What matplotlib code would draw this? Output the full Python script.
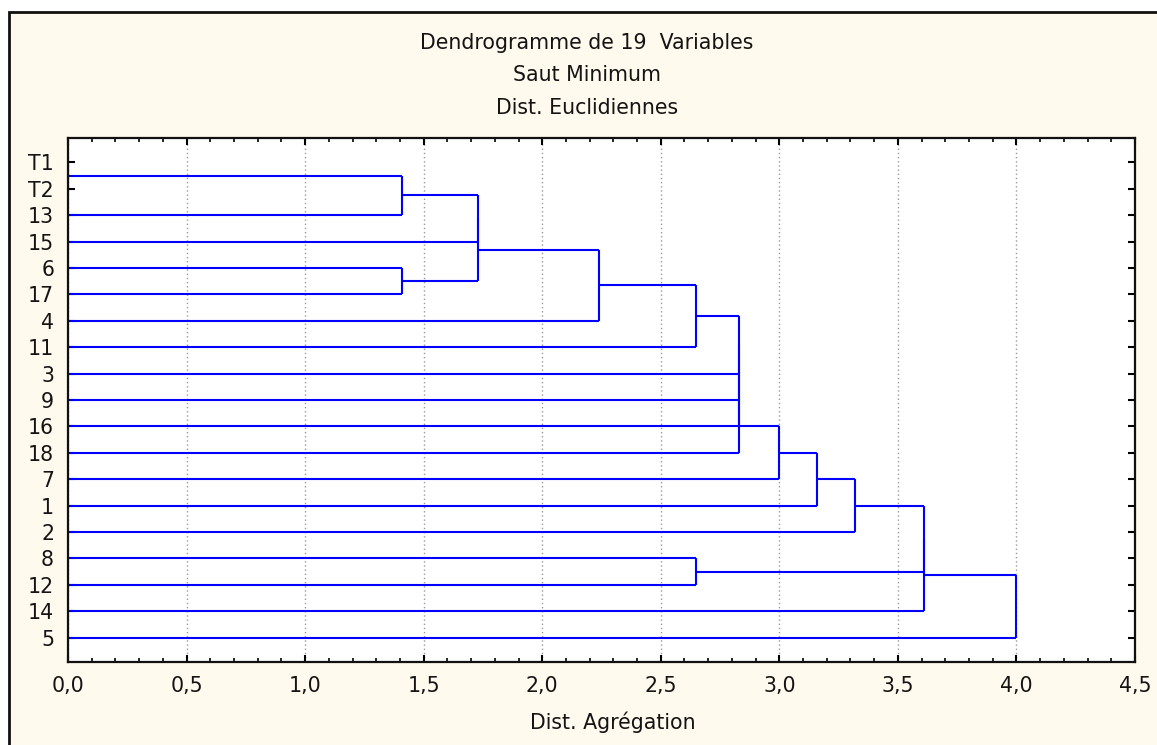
import matplotlib
matplotlib.use("Agg")
import matplotlib.pyplot as plt
from matplotlib.patches import Rectangle
from matplotlib.ticker import MultipleLocator

# ---- data ----
leaf_labels = ['T1', 'T2', '13', '15', '6', '17', '4', '11', '3', '9',
               '16', '18', '7', '1', '2', '8', '12', '14', '5']
# merges: node index n_leaves + k is created by merging merge_a[k] and merge_b[k] at merge_h[k]
merge_a = [0, 19, 4, 20, 22, 23, 24, 25, 26, 27, 28, 29, 30, 31, 15, 32, 34, 35]
merge_b = [1, 2, 5, 3, 21, 6, 7, 8, 9, 10, 11, 12, 13, 14, 16, 33, 17, 18]
merge_h = [0.0, 1.41, 1.41, 1.73, 1.73, 2.24, 2.65, 2.83, 2.83, 2.83, 2.83,
           3.00, 3.16, 3.32, 2.65, 3.61, 3.61, 4.00]
x_ticks = [0.0, 0.5, 1.0, 1.5, 2.0, 2.5, 3.0, 3.5, 4.0, 4.5]
x_tick_labels = ['0,0', '0,5', '1,0', '1,5', '2,0', '2,5', '3,0', '3,5', '4,0', '4,5']
title_lines = ['Dendrogramme de 19  Variables', 'Saut Minimum', 'Dist. Euclidiennes']
x_label = 'Dist. Agrégation'

W, H = 1157, 745
CREAM = '#FFF9EE'
BLUE = '#0000FF'
TXT = '#141414'
FS = 14.8

plt.rcParams['font.family'] = ['DejaVu Sans']

fig = plt.figure(figsize=(W / 100, H / 100), dpi=100)
fig.patch.set_facecolor('white')

# outer frame (cream panel with black border, top-left visible)
frame = Rectangle((9 / W, -0.2), 1.5, (1 - 12 / H) + 0.2, transform=fig.transFigure,
                  facecolor=CREAM, edgecolor='#111111', linewidth=2.0, zorder=0)
fig.add_artist(frame)

ax_l, ax_r, ax_t, ax_b = 68, 1135, 138, 662
ax = fig.add_axes([ax_l / W, 1 - ax_b / H, (ax_r - ax_l) / W, (ax_b - ax_t) / H])
ax.set_facecolor('white')

n = len(leaf_labels)
ypos = {i: float(i) for i in range(n)}
xpos = {i: 0.0 for i in range(n)}
for k, (a, b, h) in enumerate(zip(merge_a, merge_b, merge_h)):
    for c in (a, b):
        ax.plot([xpos[c], h], [ypos[c], ypos[c]], color=BLUE, lw=1.5,
                solid_capstyle='butt', zorder=2)
    ax.plot([h, h], [ypos[a], ypos[b]], color=BLUE, lw=1.5,
            solid_capstyle='butt', zorder=2)
    node = n + k
    ypos[node] = (ypos[a] + ypos[b]) / 2
    xpos[node] = h

ax.set_xlim(0, 4.5)
ax.set_ylim(n - 1 + 0.92, -0.92)

ax.set_xticks(x_ticks)
ax.set_xticklabels(x_tick_labels)
ax.xaxis.set_minor_locator(MultipleLocator(0.1))
ax.set_yticks(range(n))
ax.set_yticklabels(leaf_labels)

ax.tick_params(axis='x', which='major', direction='in', length=5, width=1.5,
               top=True, bottom=True, labelsize=FS, labelcolor=TXT, pad=10)
ax.tick_params(axis='x', which='minor', direction='in', length=3, width=1.2,
               top=True, bottom=True)
ax.tick_params(axis='y', which='major', direction='in', length=5, width=1.5,
               left=True, right=True, labelsize=FS, labelcolor=TXT, pad=10)

ax.grid(axis='x', which='major', linestyle=(0, (1, 2)), color='#999999', lw=1.0, zorder=1)
ax.set_axisbelow(True)

for s in ax.spines.values():
    s.set_linewidth(1.6)
    s.set_color('#111111')

# titles
title_y = [43, 75, 108]
for line, yy in zip(title_lines, title_y):
    fig.text(587 / W, 1 - yy / H, line, ha='center', va='center', fontsize=FS, color=TXT)
fig.text(613 / W, 1 - 722 / H, x_label, ha='center', va='center', fontsize=FS, color=TXT)

fig.savefig('out.png', dpi=100, facecolor=fig.get_facecolor())
